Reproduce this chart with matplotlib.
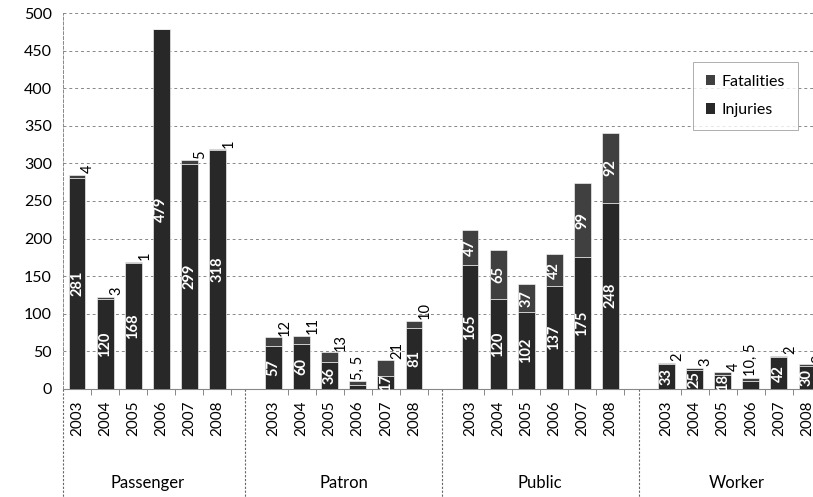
import matplotlib
matplotlib.use("Agg")
import matplotlib.pyplot as plt
from matplotlib.patches import Patch

plt.rcParams['font.family'] = ['Lato', 'DejaVu Sans']

# data
categories = ["Passenger", "Patron", "Public", "Worker"]
years = ["2003", "2004", "2005", "2006", "2007", "2008"]
injuries = [
    [281, 120, 168, 479, 299, 318],
    [57, 60, 36, 5, 17, 81],
    [165, 120, 102, 137, 175, 248],
    [33, 25, 18, 10, 42, 30],
]
fatalities = [
    [4, 3, 1, 0, 5, 1],
    [12, 11, 13, 5, 21, 10],
    [47, 65, 37, 42, 99, 92],
    [2, 3, 4, 5, 2, 3],
]

inj_color = "#282828"
fat_color = "#404040"

fig = plt.figure(figsize=(8.13, 4.97), dpi=100)
ax = fig.add_axes([63 / 813, 108 / 497, 758 / 813, 376 / 497])

slot = len(years) + 1
xs, labels = [], []
for g, cat in enumerate(categories):
    for j, yr in enumerate(years):
        x = g * slot + j
        inj = injuries[g][j]
        fat = fatalities[g][j]
        ax.bar(x, inj, width=0.6, color=inj_color, edgecolor="white", linewidth=0.4, zorder=3)
        ax.bar(x, fat, width=0.6, bottom=inj, color=fat_color, edgecolor="white", linewidth=0.4, zorder=3)
        xs.append(x)
        labels.append(yr)
        top = inj + fat
        if inj < 15:
            # too small, both values written above the bar
            ax.text(x, top + 2, f"{inj}, {fat}", rotation=90, ha="center", va="bottom",
                    fontsize=10.5, color="black", zorder=4)
            continue
        ax.text(x, inj / 2, str(inj), rotation=90, ha="center", va="center",
                fontsize=10.5, fontweight="bold", color="white", zorder=4)
        if fat >= 30:
            ax.text(x, inj + fat / 2, str(fat), rotation=90, ha="center", va="center",
                    fontsize=10.5, fontweight="bold", color="white", zorder=4)
        elif fat > 0:
            ax.text(x + 0.15, top + 2, str(fat), rotation=90, ha="left", va="bottom",
                    fontsize=10.5, color="black", zorder=4)

ax.set_xlim(-0.5, len(categories) * slot - 1.5)
ax.set_ylim(0, 500)
ax.set_yticks(range(0, 501, 50))
ax.set_xticks(xs)
ax.set_xticklabels(labels, rotation=90, fontsize=11)
ax.set_xticks([x + 0.5 for x in xs], minor=True)
ax.tick_params(axis="x", which="major", length=0, pad=8)
ax.tick_params(axis="x", which="minor", length=4, color="#888888", width=0.7)
ax.tick_params(axis="y", length=0, pad=8, labelsize=11.5)

ax.grid(axis="y", color="#888888", linestyle=(0, (3, 3)), linewidth=0.7, zorder=0)
for s in ["top", "right"]:
    ax.spines[s].set_visible(False)
ax.spines["left"].set_color("#888888")
ax.spines["left"].set_linestyle((0, (3, 2)))
ax.spines["left"].set_linewidth(0.7)
ax.spines["bottom"].set_color("#888888")
ax.spines["bottom"].set_linewidth(0.8)

# group separators and category names under the axis
trans = ax.get_xaxis_transform()
seps = [-0.5] + [g * slot + len(years) for g in range(len(categories) - 1)]
for s in seps:
    ax.plot([s, s], [0, -0.3], transform=trans, clip_on=False,
            color="#666666", linestyle=(0, (2, 1.5)), linewidth=0.8)
for g, cat in enumerate(categories):
    cx = g * slot + (len(years) - 1) / 2
    ax.text(cx, -0.25, cat, transform=trans, ha="center", va="center", fontsize=12)

handles = [Patch(facecolor=fat_color, label="Fatalities"),
           Patch(facecolor=inj_color, label="Injuries")]
leg = fig.legend(handles=handles, loc="upper right", bbox_to_anchor=(806 / 813, 443 / 497),
                 fontsize=11.5, frameon=True, fancybox=False, handlelength=0.6,
                 handleheight=0.6, handletextpad=0.4, labelspacing=0.9, borderpad=0.8)
leg.get_frame().set_edgecolor("#999999")
leg.get_frame().set_linewidth(0.7)

fig.savefig("out.png", dpi=100)
